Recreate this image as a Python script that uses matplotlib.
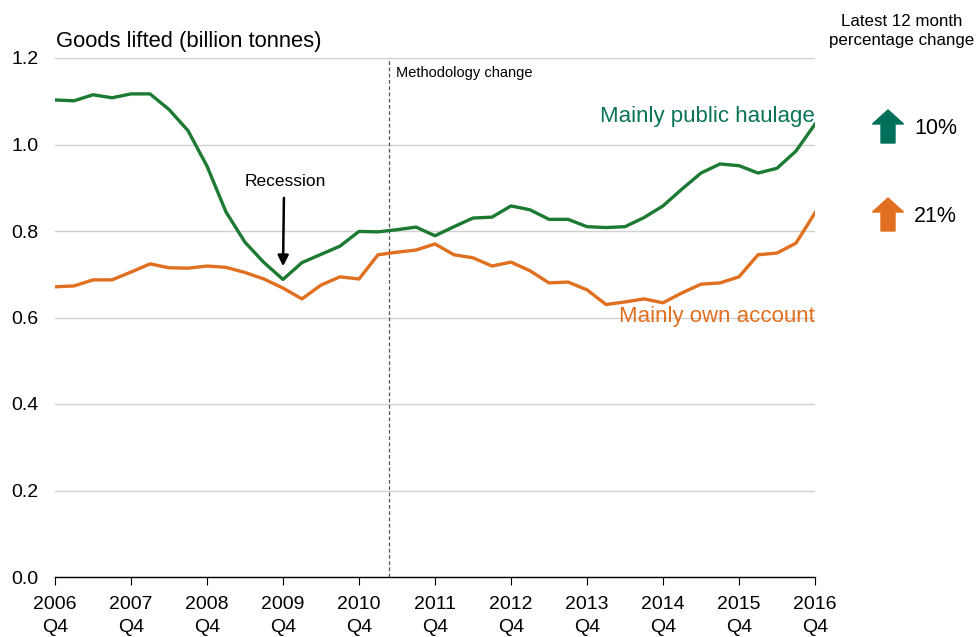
import matplotlib
matplotlib.use("Agg")
import matplotlib.pyplot as plt
from matplotlib.patches import FancyArrow
import numpy as np

plt.rcParams['font.family'] = ['Liberation Sans', 'DejaVu Sans']

years = list(range(2006, 2017))
tick_labels = [f"{y}\nQ4" for y in years]

public_haulage = [1.103, 1.101, 1.115, 1.108, 1.117, 1.117, 1.081, 1.032, 0.950, 0.844,
                  0.774, 0.727, 0.688, 0.727, 0.746, 0.765, 0.799, 0.798, 0.803, 0.809,
                  0.789, 0.810, 0.830, 0.832, 0.858, 0.849, 0.827, 0.827, 0.810, 0.808,
                  0.810, 0.831, 0.858, 0.897, 0.934, 0.955, 0.951, 0.934, 0.945, 0.985,
                  1.047]
own_account = [0.671, 0.673, 0.687, 0.687, 0.705, 0.724, 0.715, 0.714, 0.719, 0.716,
               0.704, 0.689, 0.668, 0.643, 0.675, 0.694, 0.689, 0.745, 0.751, 0.756,
               0.770, 0.745, 0.738, 0.719, 0.728, 0.708, 0.680, 0.682, 0.664, 0.630,
               0.636, 0.643, 0.634, 0.657, 0.677, 0.680, 0.694, 0.745, 0.749, 0.772,
               0.842]
pct_change = ["10%", "21%"]
methodology_pos = 17.6  # quarters after 2006 Q4

GREEN_LINE = "#1c7a32"
GREEN_TEXT = "#0b7457"
GREEN_ARROW = "#00705a"
ORANGE = "#e06f1f"

W, H = 979, 637
fig = plt.figure(figsize=(W/100, H/100), dpi=100)
ax = fig.add_axes([55/W, 1-577/H, (815-55)/W, (577-58)/H])

x = np.arange(len(public_haulage))
ax.plot(x, public_haulage, color=GREEN_LINE, lw=2.4, solid_joinstyle='round', zorder=3)
ax.plot(x, own_account, color=ORANGE, lw=2.4, solid_joinstyle='round', zorder=3)

ax.set_xlim(0, 40)
ax.set_ylim(0, 1.2)
yt = np.arange(0, 1.21, 0.2)
ax.set_yticks(yt)
ax.set_yticklabels([f"{v:.1f}" for v in yt], fontsize=14)
ax.set_xticks(np.arange(0, 41, 4))
ax.set_xticklabels(tick_labels, fontsize=14, linespacing=1.4)
ax.tick_params(axis='y', length=0, pad=12)
ax.tick_params(axis='x', length=6, width=0.8, direction='out', pad=8)
for s in ['top', 'right', 'left']:
    ax.spines[s].set_visible(False)
ax.spines['bottom'].set_color('black')
ax.spines['bottom'].set_linewidth(1)
ax.grid(axis='y', color='#d0d0d0', lw=1)
ax.set_axisbelow(True)

ax.axvline(methodology_pos, color='#555555', lw=0.9, ls=(0, (3, 2)), zorder=2)
ax.text(methodology_pos + 0.35, 1.165, "Methodology change", fontsize=10.5, va='center', ha='left')

ax.text(12.1, 0.915, "Recession", fontsize=12.5, ha='center', va='center')
ax.annotate("", xy=(12.0, 0.712), xytext=(12.05, 0.883),
            arrowprops=dict(arrowstyle='-|>', color='black', lw=1.8, mutation_scale=16))

ax.text(40, 1.065, "Mainly public haulage", fontsize=16, color=GREEN_TEXT, ha='right', va='center')
ax.text(40, 0.603, "Mainly own account", fontsize=16, color=ORANGE, ha='right', va='center')

fig.text(56/W, 1-42/H, "Goods lifted (billion tonnes)", fontsize=15.8, ha='left', va='center')
fig.text(902/W, 1-31/H, "Latest 12 month\npercentage change", fontsize=12.2, ha='center', va='center', linespacing=1.35)

# right-hand arrows
for (ytop, col, lab) in [(110, GREEN_ARROW, pct_change[0]), (198, ORANGE, pct_change[1])]:
    bx = 888
    h = 33
    fig.patches.append(FancyArrow(bx/W, 1-(ytop+h)/H, 0, h/H, width=14/W, head_width=31/W,
                                  head_length=14/H, length_includes_head=True,
                                  color=col, transform=fig.transFigure, figure=fig))
    fig.text(914/W, 1-(ytop+18)/H, lab, fontsize=15.5, ha='left', va='center')

fig.savefig("out.png", dpi=100)
